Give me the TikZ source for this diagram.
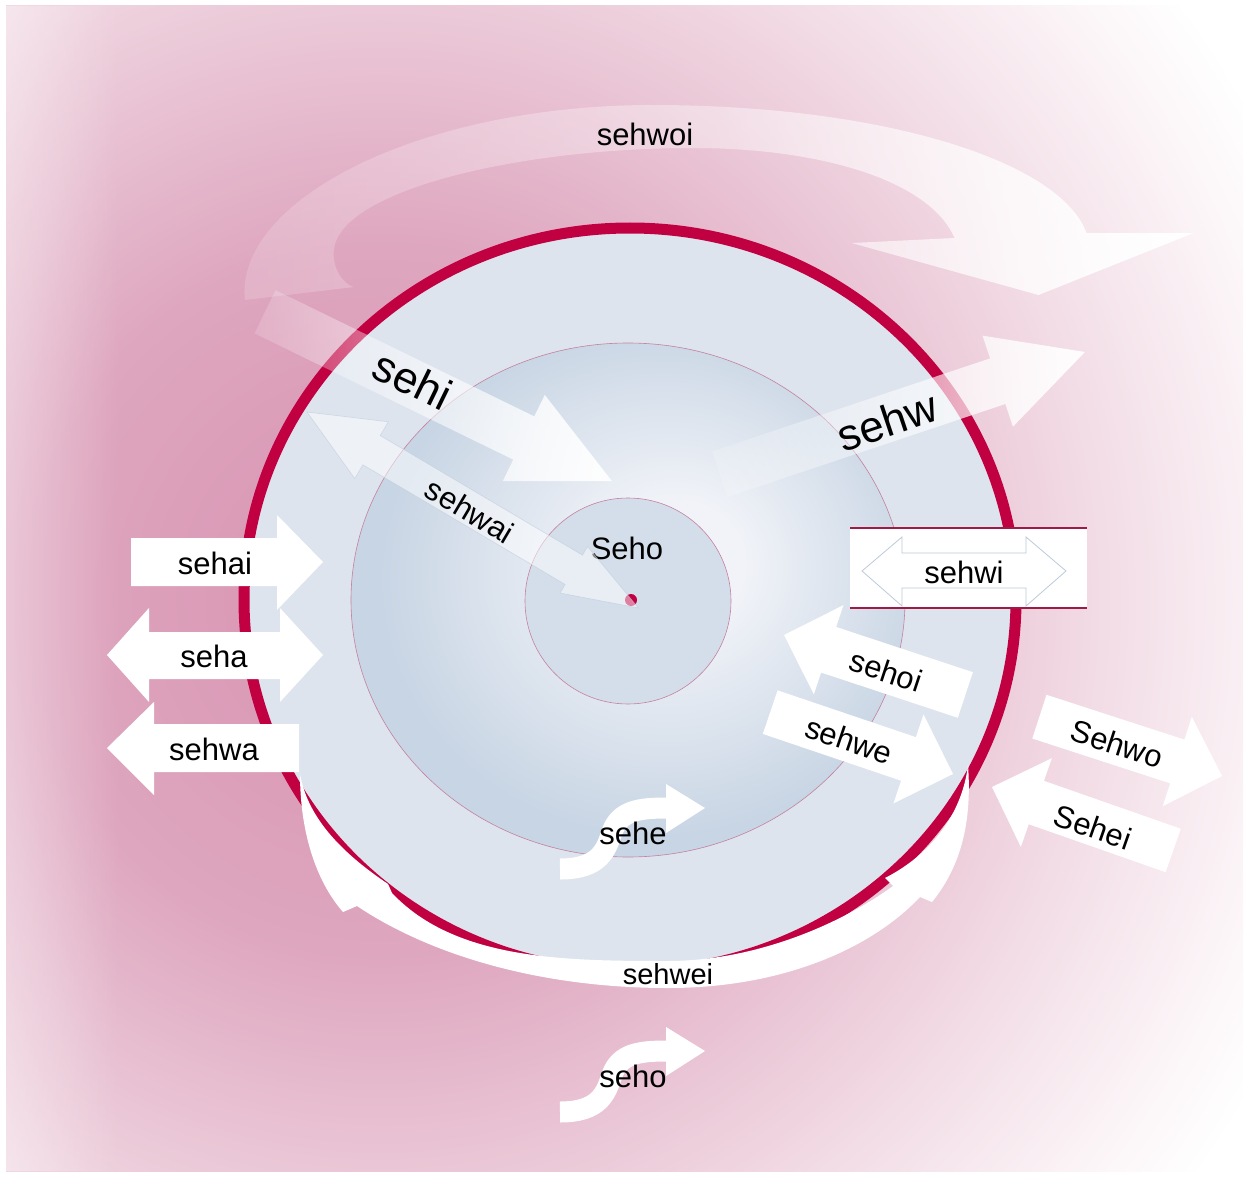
\documentclass[tikz,border=0pt]{standalone}
\usepackage{fontspec}
\setmainfont{Liberation Sans}
\usetikzlibrary{fadings}

% colours
\definecolor{ringred}{HTML}{C10042}
\definecolor{boxred}{HTML}{9E1B46}
\definecolor{diskblue}{HTML}{DDE4EE}
\definecolor{midlight}{HTML}{F1F3F8}
\definecolor{middark}{HTML}{C8D5E4}
\definecolor{corefill}{HTML}{D4DEEA}
\definecolor{thinpink}{HTML}{C4819F}
\definecolor{outlineblue}{HTML}{BCCADA}
\definecolor{bgA}{HTML}{D893B1}
\definecolor{bgB}{HTML}{DEA6BF}
\definecolor{bgC}{HTML}{F1D9E3}
\definecolor{bgD}{HTML}{FBF4F7}

\pgfdeclareradialshading{bgpink}{\pgfpoint{0bp}{0bp}}{%
  color(0bp)=(bgA); color(8.75bp)=(bgB); color(17.5bp)=(bgC);
  color(22.5bp)=(bgD); color(25bp)=(white); color(50bp)=(white)}
\pgfdeclareradialshading{midglow}{\pgfpoint{5bp}{4bp}}{%
  color(0bp)=(midlight); color(6bp)=(midlight); color(25bp)=(middark); color(50bp)=(middark)}

\tikzfading[name=fadein, left color=transparent!85, right color=transparent!5]
\tikzfading[name=bandfade, left color=transparent!85, right color=transparent!0, middle color=transparent!62]
\tikzfading[name=edgefade, left color=transparent!65, right color=transparent!100]

\begin{document}
\begin{tikzpicture}[x=1pt, y=-1pt,
    lbl/.style={inner sep=0pt, font=\fontsize{31}{31}\selectfont},
    biglbl/.style={inner sep=0pt, font=\fontsize{44}{44}\selectfont},
    smalllbl/.style={inner sep=0pt, font=\fontsize{29}{29}\selectfont},
    solidarrow/.style={fill=white},
    faintarrow/.style={fill=white, fill opacity=0.5, draw=outlineblue, draw opacity=0.6, line width=0.6pt}]
  \useasboundingbox (0,0) rectangle (1248,1177);

  % background
  \begin{scope}
    \clip (6,6) rectangle (1243,1171);
    \shade[shading=bgpink] (380,600) circle (1000);
    \fill[white, path fading=edgefade, fit fading=true] (6,6) rectangle (120,1171);
  \end{scope}

  % sehwoi band over the top
  \fill[white, path fading=bandfade, fit fading=true]
    (245,300) .. controls (235,200) and (420,105) .. (653,105)
    .. controls (880,105) and (1060,160) .. (1087,233)
    -- (1194,233) -- (1039,295) -- (852,243) -- (955,238)
    .. controls (930,180) and (820,148) .. (693,148)
    .. controls (520,148) and (340,190) .. (334,250)
    .. controls (332,270) and (345,285) .. (354,287) -- cycle;

  % disk, ring and inner zones
  \fill[diskblue] (630,600) ellipse (386 and 372);
  \draw[ringred, line width=11pt] (630,600) ellipse (386 and 372);
  \shade[shading=midglow] (628,600) ellipse (277 and 257);
  \draw[thinpink, line width=0.6pt] (628,600) ellipse (277 and 257);
  \fill[corefill] (628,601) circle (103);
  \draw[thinpink, line width=0.6pt] (628,601) circle (103);
  \fill[ringred] (631,600) circle (6);
  \node[lbl] (tSeho) at (627,548) {Seho};

  % sehi (in) and sehw (out)
  \fill[white, path fading=fadein, fit fading=true]
    (612,481) -- (544.9,394.9) -- (534.4,416.4) -- (275.6,290.2)
    -- (254.6,333.4) -- (513.4,459.6) -- (502.9,481.1) -- cycle;
  \fill[white, path fading=fadein, fit fading=true]
    (1085,352) -- (982.6,335.7) -- (990.2,358.4) -- (712.3,451.4)
    -- (727.5,497.0) -- (1005.4,404.0) -- (1013.0,426.7) -- cycle;

  % sehwai, both ways
  \begin{scope}[shift={(307,412)}, rotate=-30.6]
    \filldraw[faintarrow] (0,0) -- (75,-33) -- (75,-17) -- (310,-17) -- (310,-27)
      -- (385,0) -- (310,27) -- (310,17) -- (75,17) -- (75,33) -- cycle;
  \end{scope}

  % arrows on the left
  \fill[solidarrow] (131,538) -- (277,538) -- (277,515) -- (323,562) -- (277,610)
    -- (277,586) -- (131,586) -- cycle;
  \fill[solidarrow] (107,655) -- (149,608) -- (149,632) -- (280,632) -- (280,608)
    -- (323,655) -- (280,702) -- (280,679) -- (149,679) -- (149,702) -- cycle;
  \fill[solidarrow] (107,748) -- (154,702) -- (154,724) -- (299,724) -- (299,772)
    -- (154,772) -- (154,795) -- cycle;

  % sehwi box
  \fill[white] (850,528) rectangle (1087,608);
  \draw[boxred, line width=2pt] (850,528) -- (1087,528) (850,608) -- (1087,608);
  \draw[outlineblue, line width=0.8pt] (862,571) -- (902,537) -- (902,553) -- (1026,553)
    -- (1026,537) -- (1066,571) -- (1026,606) -- (1026,588) -- (902,588) -- (902,606) -- cycle;

  % slanted arrows on the right
  \begin{scope}[shift={(784,635)}, rotate=-18.3]
    \fill[solidarrow] (0,0) -- (47,-47) -- (47,-24) -- (191,-24) -- (191,24) -- (47,24) -- (47,47) -- cycle;
  \end{scope}
  \begin{scope}[shift={(953,774)}, rotate=-18.7]
    \fill[solidarrow] (0,0) -- (-47,-47) -- (-47,-23) -- (-193,-23) -- (-193,23) -- (-47,23) -- (-47,47) -- cycle;
  \end{scope}
  \begin{scope}[shift={(1222,776)}, rotate=-18]
    \fill[solidarrow] (0,0) -- (-47,-47) -- (-47,-23) -- (-192,-23) -- (-192,23) -- (-47,23) -- (-47,47) -- cycle;
  \end{scope}
  \begin{scope}[shift={(992,787)}, rotate=-19.3]
    \fill[solidarrow] (0,0) -- (47,-47) -- (47,-23) -- (192,-23) -- (192,23) -- (47,23) -- (47,47) -- cycle;
  \end{scope}

  % sehwei band round the bottom
  \fill[white] (300,774) .. controls (300,830) and (315,880) .. (343,912)
    -- (357,906) .. controls (430,955) and (540,988) .. (668,988)
    .. controls (780,988) and (870,950) .. (920,897)
    -- (932,902) .. controls (962,865) and (972,820) .. (968,765)
    .. controls (962,815) and (930,855) .. (885,878)
    -- (893,886) .. controls (835,928) and (750,961) .. (668,961)
    .. controls (565,961) and (455,960) .. (392,893)
    -- (388,884) .. controls (345,855) and (308,820) .. (300,774) -- cycle;

  % S-shaped arrows
  \foreach \dy in {0,243} {
    \begin{scope}[shift={(0,\dy)}]
      \draw[white, line width=21pt] (560,869) .. controls (600,869) and (606,850) .. (612,832)
        .. controls (620,810) and (640,808) .. (668,808);
      \fill[white] (666,784) -- (705,808) -- (666,833) -- cycle;
    \end{scope}
  }

  % labels
  \node[lbl] (tSehwoi) at (645,134) {sehwoi};
  \node[biglbl, rotate=-26] (tSehi) at (413,380) {sehi};
  \node[biglbl, rotate=18.5] (tSehw) at (887,421) {sehw};
  \node[lbl, rotate=-30.6] (tSehwai) at (470,511) {sehwai};
  \node[lbl] (tSehai) at (215,563) {sehai};
  \node[lbl] (tSeha) at (214,656) {seha};
  \node[lbl] (tSehwa) at (214,749) {sehwa};
  \node[lbl] (tSehwi) at (964,572) {sehwi};
  \node[lbl, rotate=-18.3] (tSehoi) at (886,671) {sehoi};
  \node[lbl, rotate=-18.7] (tSehwe) at (849,740) {sehwe};
  \node[lbl, rotate=-18] (tSehwo) at (1117,744) {Sehwo};
  \node[lbl, rotate=-19.3] (tSehei) at (1093,827) {Sehei};
  \node[lbl] (tSehe) at (633,833) {sehe};
  \node[smalllbl] (tSehwei) at (668,974) {sehwei};
  \node[lbl] (tSehoLow) at (633,1076) {seho};
\end{tikzpicture}
\end{document}
